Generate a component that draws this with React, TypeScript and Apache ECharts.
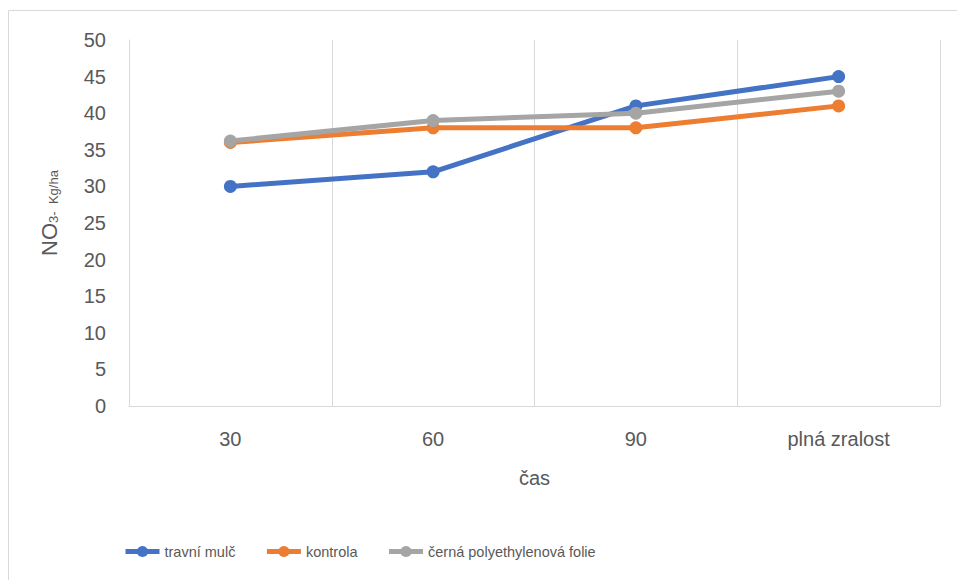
import React, { useEffect, useRef } from "react";
import * as echarts from "echarts";

const categories = ["30", "60", "90", "plná zralost"];
const travniMulc = [30, 32, 41, 45];
const kontrola = [36, 38, 38, 41];
const cernaFolie = [36.2, 39, 40, 43];
const seriesNames = ["travní mulč", "kontrola", "černá polyethylenová folie"];
const colors = ["#4472C4", "#ED7D31", "#A5A5A5"];

const FONT = "Liberation Sans";
const TXT = "#595959";

export default function App() {
  const ref = useRef<HTMLDivElement>(null);
  useEffect(() => {
    const chart = echarts.init(ref.current!, null, { renderer: "svg" });
    const mk = (name: string, data: number[], color: string) => ({
      name,
      type: "line",
      data,
      symbol: "circle",
      symbolSize: 13,
      lineStyle: { width: 5, color },
      itemStyle: { color },
    });
    chart.setOption({
      animation: false,
      textStyle: { fontFamily: FONT },
      grid: { left: 129, right: 17, top: 40, bottom: 174 },
      xAxis: {
        type: "category",
        data: categories,
        boundaryGap: true,
        axisLine: { show: true, lineStyle: { color: "#d9d9d9", width: 1 } },
        axisTick: { show: false },
        splitLine: { show: true, interval: 0, lineStyle: { color: "#d9d9d9", width: 1 } },
        axisLabel: { color: TXT, fontSize: 20, margin: 23, fontFamily: FONT },
        name: "čas",
        nameLocation: "middle",
        nameGap: 62,
        nameTextStyle: { color: TXT, fontSize: 20, fontFamily: FONT },
      },
      yAxis: {
        type: "value",
        min: 0,
        max: 50,
        interval: 5,
        axisLine: { show: true, lineStyle: { color: "#d9d9d9", width: 1 } },
        axisTick: { show: false },
        splitLine: { show: false },
        axisLabel: { color: TXT, fontSize: 20, margin: 23, fontFamily: FONT },
      },
      legend: {
        left: 118,
        top: 539,
        itemWidth: 34,
        itemHeight: 14,
        itemGap: 29,
        lineStyle: { width: 5 },
        textStyle: { color: TXT, fontSize: 14.5, fontFamily: FONT },
        data: seriesNames,
      },
      graphic: [
        {
          type: "rect",
          shape: { x: 8.5, y: 10.5, width: 1000, height: 1000 },
          style: { fill: "none", stroke: "#d9d9d9", lineWidth: 1 },
          silent: true,
        },
        {
          type: "text",
          x: 49,
          y: 213,
          rotation: Math.PI / 2,
          style: {
            text: "{a|NO}{b|3-  Kg/ha}",
            align: "center",
            verticalAlign: "middle",
            rich: {
              a: { fontSize: 22, fill: TXT, fontFamily: FONT, verticalAlign: "bottom" },
              b: { fontSize: 13, fill: TXT, fontFamily: FONT, verticalAlign: "bottom" },
            },
          },
        },
      ],
      series: [
        mk(seriesNames[0], travniMulc, colors[0]),
        mk(seriesNames[1], kontrola, colors[1]),
        mk(seriesNames[2], cernaFolie, colors[2]),
      ],
    });
    return () => chart.dispose();
  }, []);
  return (
    <div
      ref={ref}
      style={{ position: "absolute", left: 0, top: 0, width: 957, height: 580 }}
    />
  );
}
